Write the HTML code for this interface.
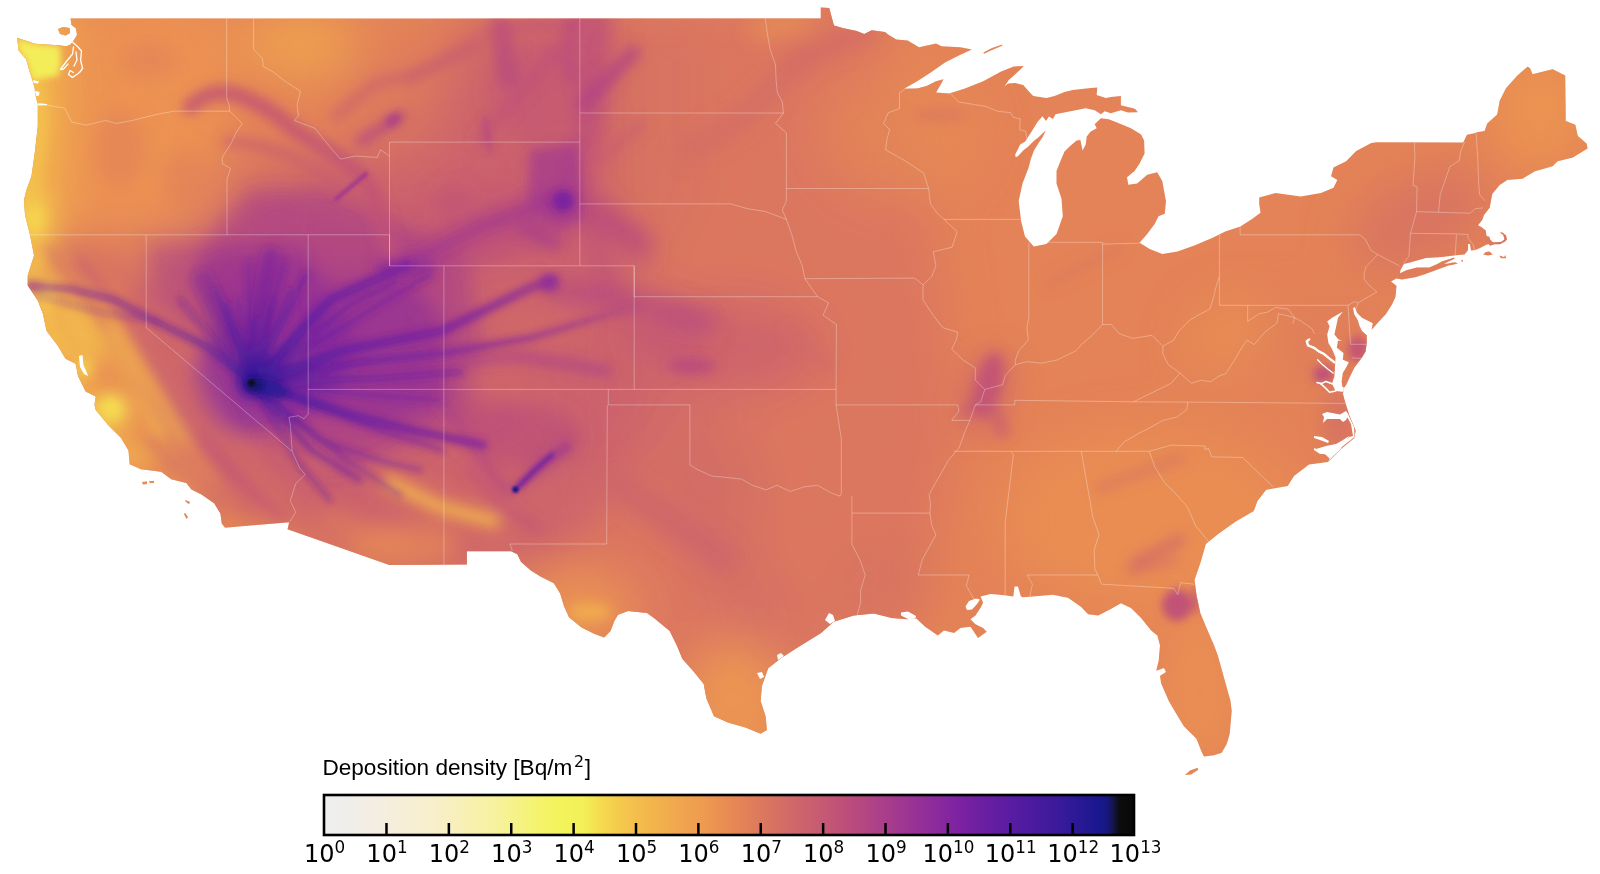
<!DOCTYPE html>
<html lang="en"><head><meta charset="utf-8"><title>Deposition density</title>
<style>
html,body{margin:0;padding:0;background:#fff;}
body{width:1600px;height:874px;overflow:hidden;position:relative;}
svg{position:absolute;left:0;top:0;display:block;}
.tk{font-family:"DejaVu Sans","Liberation Sans",sans-serif;font-size:24px;fill:#000;}
.sup{font-size:16.8px;}
.ttl{font-family:"Liberation Sans",Arial,Helvetica,sans-serif;font-size:22.6px;fill:#000;}
.ttl .s2{font-family:"DejaVu Sans","Liberation Sans",sans-serif;font-size:15.8px;}
</style></head><body>
<svg width="1600" height="874" viewBox="0 0 1600 874">
<defs>
<clipPath id="us"><path d="M70.5 18.4 L820.8 18.6 L820.8 7.6 L829.3 7.9 L832.2 18.9 L834.0 25.5 L843.5 28.3 L856.7 31.1 L864.2 34.0 L871.8 30.2 L885.0 32.1 L888.8 34.9 L896.3 39.6 L907.7 40.6 L919.0 47.2 L936.0 43.4 L941.7 46.3 L960.5 47.2 L971.9 49.5 L960.5 54.7 L945.4 62.3 L930.3 72.7 L917.1 81.2 L903.9 88.7 L917.1 88.4 L926.5 85.9 L936.0 81.2 L943.5 79.3 L941.0 84.0 L936.0 92.5 L949.2 93.4 L964.3 88.7 L983.2 81.2 L1001.1 71.5 L1013.7 66.4 L1023.7 65.9 L1021.0 69.0 L1008.6 80.3 L1004.5 86.5 L1008.1 83.5 L1015.2 83.0 L1023.2 85.0 L1030.3 93.1 L1033.3 96.1 L1046.4 98.1 L1054.5 96.1 L1064.5 92.1 L1072.6 90.1 L1090.7 88.1 L1097.3 87.6 L1096.7 95.1 L1105.8 98.1 L1110.8 97.1 L1120.9 96.1 L1120.9 105.2 L1135.0 108.7 L1138.0 112.2 L1128.0 112.4 L1120.9 110.2 L1110.8 113.2 L1104.8 111.2 L1100.8 114.2 L1094.7 110.2 L1085.7 108.2 L1070.6 111.2 L1060.5 113.2 L1055.5 114.2 L1053.0 119.0 L1049.0 116.5 L1046.0 121.0 L1042.4 116.3 L1037.3 122.3 L1032.3 130.4 L1025.2 141.4 L1020.2 144.5 L1015.2 154.5 L1015.5 157.0 L1017.6 156.5 L1023.2 150.5 L1028.3 146.5 L1034.3 140.4 L1038.3 137.4 L1042.4 133.4 L1045.8 130.2 L1043.0 136.4 L1038.3 143.4 L1034.0 150.5 L1031.0 158.5 L1028.5 168.0 L1022.5 183.6 L1018.7 201.2 L1021.2 221.4 L1025.0 236.5 L1033.8 246.5 L1046.4 244.0 L1056.5 233.9 L1062.8 216.3 L1061.5 198.7 L1056.5 183.6 L1056.5 171.0 L1061.5 158.4 L1064.5 151.5 L1069.6 146.5 L1076.6 140.4 L1080.4 140.0 L1082.6 150.5 L1085.7 144.5 L1086.7 136.4 L1090.7 131.4 L1096.7 128.3 L1094.7 124.3 L1100.8 118.3 L1108.8 119.3 L1118.9 123.3 L1131.0 128.3 L1141.1 134.4 L1144.1 140.4 L1144.6 153.4 L1139.6 163.4 L1134.6 171.0 L1127.0 177.3 L1128.3 184.8 L1137.1 183.6 L1147.2 174.8 L1157.2 172.2 L1162.3 181.1 L1166.0 201.2 L1164.8 213.8 L1158.5 216.3 L1154.7 223.9 L1147.2 234.0 L1139.6 242.8 L1149.7 249.1 L1162.3 254.1 L1177.4 251.6 L1195.0 245.3 L1212.6 237.7 L1225.2 231.6 L1240.3 226.6 L1252.0 219.0 L1260.5 212.7 L1259.2 204.0 L1259.2 197.6 L1275.6 193.0 L1300.8 196.5 L1320.9 193.0 L1333.5 187.7 L1337.3 180.1 L1331.0 176.3 L1333.5 167.5 L1346.1 161.2 L1356.2 151.1 L1371.3 143.1 L1376.3 142.3 L1463.2 142.6 L1467.0 134.8 L1473.3 133.5 L1477.1 132.2 L1484.6 131.0 L1487.2 123.4 L1497.2 114.6 L1499.7 100.8 L1506.0 88.2 L1517.4 75.6 L1527.5 66.8 L1530.0 68.0 L1532.5 74.3 L1552.6 69.3 L1565.2 75.6 L1565.7 120.9 L1575.3 124.7 L1577.8 136.0 L1586.6 143.6 L1587.6 148.6 L1572.8 157.4 L1557.7 161.2 L1552.6 166.2 L1535.0 171.3 L1522.4 178.8 L1507.3 180.1 L1499.7 185.1 L1492.2 194.0 L1489.7 207.7 L1484.0 215.0 L1482.2 220.0 L1478.0 225.3 L1481.3 227.0 L1485.7 230.6 L1486.6 235.9 L1489.3 236.7 L1490.1 239.4 L1492.8 242.3 L1497.2 242.3 L1501.6 241.8 L1504.5 239.4 L1503.3 235.0 L1499.8 232.6 L1502.5 232.6 L1506.0 235.5 L1507.0 239.4 L1505.1 241.6 L1499.8 244.2 L1494.5 244.2 L1490.1 245.8 L1488.4 244.0 L1485.7 244.9 L1479.6 248.2 L1475.2 250.0 L1471.0 250.5 L1470.0 244.0 L1468.0 244.0 L1468.1 250.0 L1464.6 254.4 L1455.8 255.2 L1441.7 257.0 L1425.8 257.9 L1410.8 262.3 L1403.8 264.0 L1400.5 270.0 L1399.0 277.0 L1391.0 281.5 L1396.5 285.8 L1395.5 297.0 L1392.0 304.6 L1386.0 314.0 L1379.0 321.4 L1371.6 329.8 L1372.8 323.2 L1368.0 320.8 L1362.0 317.8 L1357.2 313.0 L1354.8 307.0 L1353.0 308.2 L1354.2 314.2 L1357.8 320.2 L1359.6 326.2 L1362.0 331.0 L1366.8 335.2 L1366.8 343.0 L1365.6 351.4 L1362.0 357.4 L1354.8 367.0 L1350.0 376.6 L1346.4 384.4 L1343.6 388.5 L1343.6 392.0 L1342.8 393.0 L1344.6 400.3 L1349.4 415.4 L1355.7 430.5 L1354.4 438.1 L1341.8 448.2 L1328.0 462.0 L1309.1 464.5 L1294.0 475.9 L1287.7 485.9 L1266.2 489.7 L1257.4 501.1 L1253.7 511.1 L1236.0 521.2 L1218.4 533.8 L1205.8 543.9 L1200.8 561.5 L1194.5 580.0 L1196.5 595.3 L1200.3 612.9 L1206.5 628.0 L1214.1 645.6 L1217.9 655.7 L1224.2 678.4 L1230.5 701.1 L1231.7 711.1 L1229.7 733.8 L1226.7 743.9 L1221.7 752.7 L1214.1 755.2 L1204.0 756.5 L1201.5 751.4 L1196.5 738.8 L1183.9 726.2 L1176.3 713.7 L1168.8 701.1 L1161.2 683.4 L1160.0 676.0 L1166.0 672.0 L1164.0 668.0 L1156.2 670.8 L1158.7 660.8 L1160.0 645.6 L1157.4 635.6 L1151.1 630.5 L1141.1 617.9 L1131.0 607.9 L1120.9 603.3 L1110.8 609.1 L1098.2 615.4 L1088.2 614.2 L1080.6 606.6 L1068.0 597.8 L1052.9 594.8 L1032.7 596.5 L1022.6 597.3 L1020.8 596.3 L1018.0 586.4 L1014.5 586.4 L1013.3 596.5 L1004.5 595.2 L990.6 594.0 L980.6 596.5 L983.1 602.8 L980.6 607.8 L975.5 615.4 L970.5 619.2 L975.5 624.2 L983.1 628.0 L986.8 631.7 L978.0 638.0 L970.5 626.7 L960.4 628.0 L954.1 633.0 L944.0 630.5 L937.8 635.5 L925.2 626.7 L916.4 618.5 L906.7 619.2 L891.6 617.9 L874.0 613.4 L853.8 615.4 L833.7 621.7 L821.1 633.0 L798.4 646.9 L780.8 658.2 L768.2 668.3 L761.9 686.0 L760.6 701.0 L765.6 716.2 L766.9 730.0 L760.6 733.8 L745.5 727.5 L727.9 722.5 L714.0 716.2 L706.4 698.5 L703.7 684.0 L693.6 671.4 L682.3 658.8 L677.2 646.2 L669.7 631.1 L654.6 618.5 L647.0 613.0 L628.1 611.0 L618.0 614.8 L614.3 621.1 L610.5 631.1 L604.2 637.4 L594.1 633.7 L581.5 627.4 L568.9 617.3 L563.9 606.0 L560.1 593.4 L553.8 583.3 L541.2 577.0 L531.1 570.7 L521.0 561.9 L517.3 554.3 L511.0 551.3 L466.9 551.3 L466.9 564.6 L389.4 564.9 L287.5 529.3 L289.2 522.3 L225.0 527.7 L221.7 523.4 L220.4 513.4 L214.1 503.3 L201.5 494.5 L191.4 489.4 L186.4 483.1 L171.3 479.3 L161.2 471.8 L141.0 469.3 L129.7 464.2 L128.5 450.4 L120.9 437.8 L108.3 425.2 L95.7 410.0 L94.5 405.0 L95.7 396.5 L85.6 391.4 L78.0 376.0 L75.6 363.7 L65.5 358.7 L58.0 346.0 L46.6 331.0 L42.8 313.4 L37.8 300.8 L27.7 285.6 L27.7 275.6 L34.0 255.4 L30.0 235.0 L25.0 215.0 L24.0 200.0 L26.4 190.0 L31.5 176.0 L35.0 151.0 L37.8 126.0 L37.8 104.5 L35.0 93.0 L34.7 88.0 L32.2 79.6 L29.2 70.5 L26.2 59.4 L18.6 50.4 L17.1 37.8 L35.2 43.8 L58.4 45.3 L66.5 46.3 L70.5 44.5 L74.0 40.0 L77.0 35.0 L76.0 28.5 L71.5 25.0 L70.5 18.6ZM1401.6 272.5 L1406.4 270.2 L1417.0 267.6 L1429.3 267.6 L1437.3 264.0 L1441.7 261.4 L1450.5 258.8 L1454.0 257.5 L1454.5 258.8 L1448.0 261.8 L1444.0 264.0 L1448.0 263.4 L1454.5 262.3 L1458.0 263.2 L1454.0 264.6 L1448.7 265.6 L1441.7 268.0 L1432.9 271.2 L1424.0 274.4 L1415.2 277.2 L1402.0 279.5 L1396.7 278.5 L1397.0 274.5ZM1461.5 260.0 L1463.0 260.0 L1463.0 261.5 L1461.5 261.5ZM1185.0 775.0 L1190.0 770.5 L1197.7 767.8 L1198.0 770.0 L1191.0 774.5ZM983.4 52.6 L992.0 48.0 L1002.3 44.5 L1002.3 45.8 L992.0 50.0 L984.0 53.8ZM58.0 29.0 L63.0 27.0 L69.5 28.0 L70.0 33.0 L66.0 35.5 L60.0 34.0ZM1483.0 254.5 L1486.0 252.0 L1489.5 251.5 L1492.8 254.5 L1488.0 255.5ZM1499.0 255.5 L1504.0 257.0 L1505.5 255.0 L1506.0 258.3 L1501.0 258.3ZM142.0 482.0 L147.0 481.5 L147.0 484.0 L143.0 484.5ZM149.0 481.0 L154.0 481.0 L154.0 483.0 L150.0 483.0ZM185.0 500.0 L190.0 502.0 L189.0 504.0 L186.0 502.0ZM185.0 513.0 L188.0 517.0 L186.5 519.0 L184.0 514.0Z"/></clipPath>
<linearGradient id="cbg" x1="0" x2="1" y1="0" y2="0"><stop offset="0.00%" stop-color="#efefef"/><stop offset="2.59%" stop-color="#f0eeec"/><stop offset="6.91%" stop-color="#f5ede0"/><stop offset="14.30%" stop-color="#f8efc8"/><stop offset="21.70%" stop-color="#f6f29a"/><stop offset="26.63%" stop-color="#f4f36c"/><stop offset="29.10%" stop-color="#f3f35c"/><stop offset="32.06%" stop-color="#f3f058"/><stop offset="34.03%" stop-color="#f5dc50"/><stop offset="36.74%" stop-color="#f5c84d"/><stop offset="39.70%" stop-color="#f3b84c"/><stop offset="43.90%" stop-color="#f0a64e"/><stop offset="46.98%" stop-color="#ee9a50"/><stop offset="51.29%" stop-color="#e58456"/><stop offset="57.46%" stop-color="#d06a68"/><stop offset="64.86%" stop-color="#bc4c7c"/><stop offset="72.26%" stop-color="#9c3494"/><stop offset="78.42%" stop-color="#7c22a2"/><stop offset="84.59%" stop-color="#5a1ca2"/><stop offset="90.75%" stop-color="#3a1a9a"/><stop offset="95.68%" stop-color="#18188e"/><stop offset="96.67%" stop-color="#171780"/><stop offset="97.41%" stop-color="#14144a"/><stop offset="98.27%" stop-color="#0c0c0c"/><stop offset="100.00%" stop-color="#080808"/></linearGradient>
<radialGradient id="rayg" gradientUnits="userSpaceOnUse" cx="251.5" cy="382.8" r="420">
<stop offset="0" stop-color="#2f1996" stop-opacity="1"/><stop offset="0.08" stop-color="#4e1b9f" stop-opacity="1"/>
<stop offset="0.25" stop-color="#6b1fa2" stop-opacity="0.95"/><stop offset="0.55" stop-color="#8024a0" stop-opacity="0.85"/>
<stop offset="0.8" stop-color="#942f98" stop-opacity="0.65"/><stop offset="1" stop-color="#a93e8a" stop-opacity="0.0"/></radialGradient>
<filter id="b24" filterUnits="userSpaceOnUse" x="-100" y="-100" width="1800" height="1074"><feGaussianBlur stdDeviation="24"/></filter>
<filter id="b12" filterUnits="userSpaceOnUse" x="-100" y="-100" width="1800" height="1074"><feGaussianBlur stdDeviation="12"/></filter>
<filter id="b10" filterUnits="userSpaceOnUse" x="-100" y="-100" width="1800" height="1074"><feGaussianBlur stdDeviation="10"/></filter>
<filter id="b6" filterUnits="userSpaceOnUse" x="-100" y="-100" width="1800" height="1074"><feGaussianBlur stdDeviation="6"/></filter>
<filter id="b5" filterUnits="userSpaceOnUse" x="-100" y="-100" width="1800" height="1074"><feGaussianBlur stdDeviation="5"/></filter>
<filter id="b4" filterUnits="userSpaceOnUse" x="-100" y="-100" width="1800" height="1074"><feGaussianBlur stdDeviation="4"/></filter>
<filter id="b3_2" filterUnits="userSpaceOnUse" x="-100" y="-100" width="1800" height="1074"><feGaussianBlur stdDeviation="3.2"/></filter>
<filter id="b3" filterUnits="userSpaceOnUse" x="-100" y="-100" width="1800" height="1074"><feGaussianBlur stdDeviation="3"/></filter>
<filter id="b2" filterUnits="userSpaceOnUse" x="-100" y="-100" width="1800" height="1074"><feGaussianBlur stdDeviation="2"/></filter>
<filter id="b1_5" filterUnits="userSpaceOnUse" x="-100" y="-100" width="1800" height="1074"><feGaussianBlur stdDeviation="1.5"/></filter>
<filter id="b1" filterUnits="userSpaceOnUse" x="-100" y="-100" width="1800" height="1074"><feGaussianBlur stdDeviation="1"/></filter>
<filter id="b0_8" filterUnits="userSpaceOnUse" x="-100" y="-100" width="1800" height="1074"><feGaussianBlur stdDeviation="0.8"/></filter>

</defs>
<g clip-path="url(#us)">
<rect x="0" y="0" width="1600" height="874" fill="#e48357"/>
<g filter="url(#b24)">
<polygon points="600,0 880,0 930,200 960,420 920,620 820,700 700,760 600,700 560,400" fill="#da7660" fill-opacity="0.9"/>
<ellipse cx="720" cy="348" rx="100" ry="48" fill="#c75d71" fill-opacity="0.7"/>
<ellipse cx="700" cy="480" rx="70" ry="60" fill="#d26c66" fill-opacity="0.5"/>
<polygon points="585,10 700,10 700,200 640,290 585,290" fill="#d47064" fill-opacity="0.5"/>
<polygon points="150,240 300,170 400,140 520,0 600,0 610,200 650,300 690,360 640,450 560,560 420,580 290,530 230,470 150,330" fill="#ca616e" fill-opacity="0.9"/>
<polygon points="200,250 320,200 440,230 450,420 330,480 240,430" fill="#b64880" fill-opacity="0.6"/>
<polygon points="450,10 610,10 610,150 450,160" fill="#cb636d" fill-opacity="0.6"/>
<polygon points="340,60 450,40 450,160 400,170 340,130" fill="#d77362" fill-opacity="0.5"/>
<polygon points="215,150 330,150 400,190 400,250 215,250" fill="#cd666b" fill-opacity="0.45"/>
<polygon points="0,0 230,0 230,120 200,230 0,240" fill="#ed9651" fill-opacity="0.8"/>
<ellipse cx="300" cy="45" rx="60" ry="35" fill="#f1aa4e" fill-opacity="0.75"/>
<polygon points="0,0 52,0 58,120 48,250 62,340 112,420 145,480 0,480" fill="#f4bf4c" fill-opacity="0.95"/>
<polygon points="60,300 110,290 160,380 230,470 235,535 120,480 50,340" fill="#eb9252" fill-opacity="0.6"/>
<ellipse cx="105" cy="262" rx="45" ry="30" fill="#d77362" fill-opacity="0.7"/>
<path d="M650 320 L690 440 L730 570 L760 620" fill="none" stroke="#cf6969" stroke-opacity="0.55" stroke-width="70" stroke-linecap="round" stroke-linejoin="round"/>
<ellipse cx="1420" cy="220" rx="75" ry="42" fill="#d47064" fill-opacity="0.8" transform="rotate(-25 1420 220)"/>
<ellipse cx="1540" cy="110" rx="50" ry="60" fill="#ee9a50" fill-opacity="0.7"/>
<ellipse cx="735" cy="700" rx="50" ry="60" fill="#ef9d4f" fill-opacity="0.8"/>
<ellipse cx="590" cy="610" rx="50" ry="35" fill="#efa04f" fill-opacity="0.7"/>
<ellipse cx="1150" cy="520" rx="150" ry="90" fill="#eb9252" fill-opacity="0.7"/>
<ellipse cx="1200" cy="690" rx="40" ry="80" fill="#ed9651" fill-opacity="0.6"/>
<ellipse cx="1225" cy="335" rx="40" ry="30" fill="#ee9a50" fill-opacity="0.5" transform="rotate(-40 1225 335)"/>
<ellipse cx="885" cy="585" rx="50" ry="35" fill="#d47064" fill-opacity="0.5"/>
<ellipse cx="900" cy="130" rx="80" ry="70" fill="#e98f53" fill-opacity="0.5"/>
<ellipse cx="1325" cy="345" rx="55" ry="45" fill="#dc795d" fill-opacity="0.5"/>
<ellipse cx="500" cy="215" rx="75" ry="48" fill="#c55973" fill-opacity="0.6"/>
</g>
<g filter="url(#b12)">
<ellipse cx="665" cy="335" rx="40" ry="30" fill="#c15377" fill-opacity="0.5"/>
</g>
<g filter="url(#b10)">
<polygon points="252,383 195,260 250,190 330,190 420,235 465,255 480,330 470,420 400,445 330,475" fill="#a2398f" fill-opacity="0.5"/>
<polygon points="252,383 212,300 250,262 300,252 335,285 400,268 445,325 445,405 385,425 300,410" fill="#88299d" fill-opacity="0.5"/>
<ellipse cx="273.5" cy="364.8" rx="85" ry="62" fill="#84269f" fill-opacity="0.7" transform="rotate(-30 273.5 364.8)"/>
<ellipse cx="35" cy="215" rx="16" ry="30" fill="#f5cc4e" fill-opacity="0.7"/>
<ellipse cx="80" cy="330" rx="18" ry="38" fill="#f4c34d" fill-opacity="0.75" transform="rotate(-30 80 330)"/>
<ellipse cx="110" cy="412" rx="20" ry="17" fill="#f5d24f" fill-opacity="0.85"/>
<ellipse cx="135" cy="455" rx="22" ry="10" fill="#f3b74c" fill-opacity="0.6" transform="rotate(30 135 455)"/>
<ellipse cx="200" cy="495" rx="25" ry="12" fill="#f1aa4e" fill-opacity="0.5" transform="rotate(30 200 495)"/>
<path d="M140 300 L200 420 L250 500" fill="none" stroke="#c9606f" stroke-opacity="0.65" stroke-width="36" stroke-linecap="round" stroke-linejoin="round"/>
<path d="M98 312 L150 398 L172 438" fill="none" stroke="#f2b04d" stroke-opacity="0.75" stroke-width="24" stroke-linecap="round" stroke-linejoin="round"/>
<path d="M165 470 L215 500 L260 505" fill="none" stroke="#d26c66" stroke-opacity="0.5" stroke-width="22" stroke-linecap="round" stroke-linejoin="round"/>
<ellipse cx="185" cy="480" rx="22" ry="12" fill="#ef9d4f" fill-opacity="0.5" transform="rotate(20 185 480)"/>
<path d="M70 250 L150 290" fill="none" stroke="#d26c66" stroke-opacity="0.5" stroke-width="26" stroke-linecap="round" stroke-linejoin="round"/>
<ellipse cx="150" cy="60" rx="30" ry="18" fill="#dc795d" fill-opacity="0.4"/>
<ellipse cx="120" cy="150" rx="25" ry="40" fill="#dc795d" fill-opacity="0.4"/>
<ellipse cx="185" cy="180" rx="25" ry="30" fill="#dc795d" fill-opacity="0.4"/>
<polygon points="150,245 305,245 305,380 252,383 205,340 150,300" fill="#a93e8a" fill-opacity="0.45"/>
<polygon points="200,250 305,250 305,370 252,383 225,330" fill="#942f98" fill-opacity="0.4"/>
<ellipse cx="277" cy="217" rx="24" ry="10" fill="#b34583" fill-opacity="0.6"/>
<ellipse cx="540" cy="95" rx="50" ry="45" fill="#c35675" fill-opacity="0.5"/>
<path d="M568 200 L590 120 L596 20" fill="none" stroke="#ba4a7e" stroke-opacity="0.65" stroke-width="30" stroke-linecap="round" stroke-linejoin="round"/>
<path d="M540 150 L520 60" fill="none" stroke="#c55973" stroke-opacity="0.4" stroke-width="40" stroke-linecap="round" stroke-linejoin="round"/>
<path d="M585 195 L640 250" fill="none" stroke="#bd4d7b" stroke-opacity="0.5" stroke-width="30" stroke-linecap="round" stroke-linejoin="round"/>
<ellipse cx="545" cy="225" rx="25" ry="18" fill="#a93e8a" fill-opacity="0.6" transform="rotate(40 545 225)"/>
<path d="M575 205 L640 240" fill="none" stroke="#b64880" stroke-opacity="0.6" stroke-width="22" stroke-linecap="round" stroke-linejoin="round"/>
<path d="M585 215 L610 290" fill="none" stroke="#bd4d7b" stroke-opacity="0.5" stroke-width="25" stroke-linecap="round" stroke-linejoin="round"/>
<ellipse cx="452" cy="201" rx="20" ry="12" fill="#ba4a7e" fill-opacity="0.5"/>
<path d="M556 288 L632 303 L707 321" fill="none" stroke="#b04385" stroke-opacity="0.6" stroke-width="24" stroke-linecap="round" stroke-linejoin="round"/>
<ellipse cx="540" cy="325" rx="45" ry="15" fill="#d26c66" fill-opacity="0.55"/>
<ellipse cx="500" cy="385" rx="40" ry="12" fill="#cf6969" fill-opacity="0.4"/>
<ellipse cx="650" cy="310" rx="18" ry="12" fill="#c55973" fill-opacity="0.4"/>
<ellipse cx="480" cy="420" rx="40" ry="25" fill="#bf5079" fill-opacity="0.4"/>
<ellipse cx="560" cy="500" rx="40" ry="30" fill="#cd666b" fill-opacity="0.4"/>
<ellipse cx="405" cy="545" rx="55" ry="22" fill="#e98f53" fill-opacity="0.6"/>
<path d="M388 480 L440 507 L495 522" fill="none" stroke="#eb9252" stroke-opacity="0.5" stroke-width="26" stroke-linecap="round" stroke-linejoin="round"/>
<path d="M330 520 L400 545" fill="none" stroke="#e68755" stroke-opacity="0.5" stroke-width="20" stroke-linecap="round" stroke-linejoin="round"/>
<ellipse cx="520" cy="435" rx="60" ry="32" fill="#b64880" fill-opacity="0.5"/>
<path d="M620 486 L723 558" fill="none" stroke="#c75d71" stroke-opacity="0.5" stroke-width="30" stroke-linecap="round" stroke-linejoin="round"/>
<path d="M535 470 L575 440" fill="none" stroke="#b04385" stroke-opacity="0.5" stroke-width="14" stroke-linecap="round" stroke-linejoin="round"/>
<ellipse cx="988" cy="392" rx="32" ry="50" fill="#cf6969" fill-opacity="0.4" transform="rotate(15 988 392)"/>
<ellipse cx="1340" cy="422" rx="18" ry="32" fill="#cf6969" fill-opacity="0.6"/>
<path d="M800 60 L870 30" fill="none" stroke="#cb636d" stroke-opacity="0.6" stroke-width="16" stroke-linecap="round" stroke-linejoin="round"/>
<path d="M690 150 L740 120 L800 60" fill="none" stroke="#cd666b" stroke-opacity="0.45" stroke-width="22" stroke-linecap="round" stroke-linejoin="round"/>
<path d="M760 30 L800 22" fill="none" stroke="#efa04f" stroke-opacity="0.5" stroke-width="20" stroke-linecap="round" stroke-linejoin="round"/>
<path d="M400 268 L480 228 L555 200" fill="none" stroke="#a93e8a" stroke-opacity="0.75" stroke-width="24" stroke-linecap="round" stroke-linejoin="round"/>
<path d="M470 262 L540 232" fill="none" stroke="#b64880" stroke-opacity="0.5" stroke-width="18" stroke-linecap="round" stroke-linejoin="round"/>
</g>
<g filter="url(#b6)">
<path d="M36 82 L40 105 L40 130 L36 160 L30 185 L27 215 L34 235" fill="none" stroke="#f4c34d" stroke-opacity="0.8" stroke-width="16" stroke-linecap="round" stroke-linejoin="round"/>
<path d="M36 255 L32 280 L45 305 L52 335 L68 352" fill="none" stroke="#f4bf4c" stroke-opacity="0.7" stroke-width="14" stroke-linecap="round" stroke-linejoin="round"/>
<path d="M48 250 L90 300 L125 360 L160 420" fill="none" stroke="#d47064" stroke-opacity="0.55" stroke-width="10" stroke-linecap="round" stroke-linejoin="round"/>
<path d="M80 262 L130 320 L185 410 L235 480" fill="none" stroke="#c75d71" stroke-opacity="0.6" stroke-width="12" stroke-linecap="round" stroke-linejoin="round"/>
<path d="M135 380 L175 445 L225 500" fill="none" stroke="#cd666b" stroke-opacity="0.5" stroke-width="9" stroke-linecap="round" stroke-linejoin="round"/>
<path d="M150 440 L195 485 L222 515" fill="none" stroke="#cd666b" stroke-opacity="0.5" stroke-width="9" stroke-linecap="round" stroke-linejoin="round"/>
<path d="M205 440 L250 490 L280 515" fill="none" stroke="#c15377" stroke-opacity="0.55" stroke-width="12" stroke-linecap="round" stroke-linejoin="round"/>
<path d="M110 330 L140 385 L160 430" fill="none" stroke="#f3b74c" stroke-opacity="0.6" stroke-width="9" stroke-linecap="round" stroke-linejoin="round"/>
<ellipse cx="34" cy="219" rx="10" ry="14" fill="#f5d84f" fill-opacity="0.8"/>
<ellipse cx="48" cy="296" rx="8" ry="12" fill="#f5d24f" fill-opacity="0.7"/>
<ellipse cx="84" cy="368" rx="9" ry="12" fill="#f5d24f" fill-opacity="0.8"/>
<ellipse cx="111" cy="408" rx="12" ry="11" fill="#f5de51" fill-opacity="0.9"/>
<ellipse cx="322" cy="462" rx="18" ry="8" fill="#d77362" fill-opacity="0.5" transform="rotate(40 322 462)"/>
<path d="M190 107 Q212 86 240 96 T296 131 Q330 152 352 168 T380 215 Q385 245 397 264" fill="none" stroke="#c15377" stroke-opacity="0.8" stroke-width="16" stroke-linecap="round" stroke-linejoin="round"/>
<path d="M228 142 Q262 142 300 161 T352 202" fill="none" stroke="#c55973" stroke-opacity="0.6" stroke-width="11" stroke-linecap="round" stroke-linejoin="round"/>
<path d="M361 141 L401 116" fill="none" stroke="#b04385" stroke-opacity="0.7" stroke-width="11" stroke-linecap="round" stroke-linejoin="round"/>
<path d="M336 116 L376 83 L409 76 L442 63 L477 50" fill="none" stroke="#c75d71" stroke-opacity="0.55" stroke-width="12" stroke-linecap="round" stroke-linejoin="round"/>
<path d="M508 78 L500 25" fill="none" stroke="#b64880" stroke-opacity="0.65" stroke-width="20" stroke-linecap="round" stroke-linejoin="round"/>
<path d="M572 20 L570 78" fill="none" stroke="#b64880" stroke-opacity="0.6" stroke-width="14" stroke-linecap="round" stroke-linejoin="round"/>
<path d="M497 30 L527 25 L578 25" fill="none" stroke="#bf5079" stroke-opacity="0.5" stroke-width="12" stroke-linecap="round" stroke-linejoin="round"/>
<path d="M547 50 L578 75" fill="none" stroke="#bf5079" stroke-opacity="0.5" stroke-width="12" stroke-linecap="round" stroke-linejoin="round"/>
<path d="M410 80 L500 25" fill="none" stroke="#c55973" stroke-opacity="0.4" stroke-width="12" stroke-linecap="round" stroke-linejoin="round"/>
<path d="M480 140 L550 60 L580 20" fill="none" stroke="#bf5079" stroke-opacity="0.5" stroke-width="14" stroke-linecap="round" stroke-linejoin="round"/>
<polygon points="530,150 578,142 584,220 560,228 528,200" fill="#9f3692" fill-opacity="0.65"/>
<path d="M583 104 L633 53" fill="none" stroke="#b04385" stroke-opacity="0.7" stroke-width="16" stroke-linecap="round" stroke-linejoin="round"/>
<path d="M600 160 L640 125" fill="none" stroke="#c55973" stroke-opacity="0.5" stroke-width="12" stroke-linecap="round" stroke-linejoin="round"/>
<path d="M521 227 L556 245" fill="none" stroke="#a93e8a" stroke-opacity="0.6" stroke-width="10" stroke-linecap="round" stroke-linejoin="round"/>
<ellipse cx="405" cy="268" rx="30" ry="12" fill="#8c2b9b" fill-opacity="0.75"/>
<path d="M443 361 L518 356 L607 371" fill="none" stroke="#a63b8d" stroke-opacity="0.6" stroke-width="11" stroke-linecap="round" stroke-linejoin="round"/>
<ellipse cx="692" cy="366" rx="24" ry="9" fill="#b34583" fill-opacity="0.7"/>
<path d="M390 483 L440 507 L493 521" fill="none" stroke="#f3bb4c" stroke-opacity="0.75" stroke-width="11" stroke-linecap="round" stroke-linejoin="round"/>
<ellipse cx="590" cy="612" rx="22" ry="9" fill="#f3b74c" fill-opacity="0.7"/>
<path d="M470 470 L500 505 L540 530" fill="none" stroke="#bf5079" stroke-opacity="0.5" stroke-width="10" stroke-linecap="round" stroke-linejoin="round"/>
<path d="M440 400 Q470 440 490 470 T512 488" fill="none" stroke="#a93e8a" stroke-opacity="0.6" stroke-width="8" stroke-linecap="round" stroke-linejoin="round"/>
<ellipse cx="988" cy="386" rx="14" ry="34" fill="#bf5079" fill-opacity="0.85" transform="rotate(14 988 386)"/>
<path d="M982 390 L966 412" fill="none" stroke="#c55973" stroke-opacity="0.65" stroke-width="13" stroke-linecap="round" stroke-linejoin="round"/>
<path d="M992 405 L1003 432" fill="none" stroke="#c75d71" stroke-opacity="0.65" stroke-width="14" stroke-linecap="round" stroke-linejoin="round"/>
<path d="M1100 488 L1180 458" fill="none" stroke="#d47064" stroke-opacity="0.5" stroke-width="12" stroke-linecap="round" stroke-linejoin="round"/>
<path d="M1135 563 L1180 540" fill="none" stroke="#cb636d" stroke-opacity="0.6" stroke-width="12" stroke-linecap="round" stroke-linejoin="round"/>
<path d="M1130 572 L1176 560" fill="none" stroke="#cb636d" stroke-opacity="0.5" stroke-width="8" stroke-linecap="round" stroke-linejoin="round"/>
<path d="M1050 283 L1120 248" fill="none" stroke="#da7660" stroke-opacity="0.5" stroke-width="10" stroke-linecap="round" stroke-linejoin="round"/>
<path d="M790 333 L830 368" fill="none" stroke="#cf6969" stroke-opacity="0.5" stroke-width="12" stroke-linecap="round" stroke-linejoin="round"/>
<ellipse cx="940" cy="115" rx="28" ry="7" fill="#d47064" fill-opacity="0.5"/>
<ellipse cx="33" cy="287" rx="10" ry="8" fill="#c55973" fill-opacity="0.6"/>
<path d="M400 266 L480 226 L555 199" fill="none" stroke="#9c3494" stroke-opacity="0.5" stroke-width="8" stroke-linecap="round" stroke-linejoin="round"/>
</g>
<g filter="url(#b5)">
<path d="M252 383 L203 280" fill="none" stroke="url(#rayg)" stroke-opacity="0.4" stroke-width="24" stroke-linecap="round" stroke-linejoin="round"/>
<path d="M252 383 L261 305 L271 255" fill="none" stroke="url(#rayg)" stroke-opacity="0.45" stroke-width="18" stroke-linecap="round" stroke-linejoin="round"/>
<ellipse cx="259.5" cy="379.8" rx="26" ry="20" fill="#4e1b9f" fill-opacity="0.7" transform="rotate(-25 259.5 379.8)"/>
</g>
<g filter="url(#b4)">
<ellipse cx="563" cy="201" rx="11" ry="11" fill="#7320a2" fill-opacity="0.9"/>
<ellipse cx="549" cy="283" rx="10" ry="9" fill="#8c2b9b" fill-opacity="0.8"/>
<ellipse cx="1177" cy="605" rx="15" ry="16" fill="#bd4d7b" fill-opacity="0.9"/>
<ellipse cx="1196" cy="600" rx="6" ry="14" fill="#c75d71" fill-opacity="0.7"/>
<ellipse cx="1358" cy="349" rx="10" ry="13" fill="#bf5079" fill-opacity="0.85"/>
<ellipse cx="1323" cy="374" rx="10" ry="8" fill="#b64880" fill-opacity="0.85"/>
<ellipse cx="1500" cy="240" rx="10" ry="8" fill="#cd666b" fill-opacity="0.7"/>
</g>
<g filter="url(#b3_2)">
<path d="M252 383 L206 346 L155 321 L115 300 L70 289 L30 286" fill="none" stroke="url(#rayg)" stroke-opacity="0.6" stroke-width="8" stroke-linecap="round" stroke-linejoin="round"/>
<path d="M160 322 L100 312 L40 296" fill="none" stroke="url(#rayg)" stroke-opacity="0.35" stroke-width="5" stroke-linecap="round" stroke-linejoin="round"/>
<path d="M252 383 L226 306" fill="none" stroke="url(#rayg)" stroke-opacity="0.6" stroke-width="7" stroke-linecap="round" stroke-linejoin="round"/>
<path d="M252 383 L238 300" fill="none" stroke="url(#rayg)" stroke-opacity="0.5" stroke-width="5" stroke-linecap="round" stroke-linejoin="round"/>
<path d="M252 383 L255 320" fill="none" stroke="url(#rayg)" stroke-opacity="0.6" stroke-width="5" stroke-linecap="round" stroke-linejoin="round"/>
<path d="M252 383 L272 300" fill="none" stroke="url(#rayg)" stroke-opacity="0.6" stroke-width="5" stroke-linecap="round" stroke-linejoin="round"/>
<path d="M252 383 L290 290" fill="none" stroke="url(#rayg)" stroke-opacity="0.5" stroke-width="5" stroke-linecap="round" stroke-linejoin="round"/>
<path d="M252 383 L306 275" fill="none" stroke="url(#rayg)" stroke-opacity="0.6" stroke-width="7" stroke-linecap="round" stroke-linejoin="round"/>
<path d="M252 383 L330 300 L407 265" fill="none" stroke="url(#rayg)" stroke-opacity="0.9" stroke-width="10" stroke-linecap="round" stroke-linejoin="round"/>
<path d="M252 383 L350 305 L395 282" fill="none" stroke="url(#rayg)" stroke-opacity="0.6" stroke-width="6" stroke-linecap="round" stroke-linejoin="round"/>
<path d="M252 383 L382 303 L430 275" fill="none" stroke="url(#rayg)" stroke-opacity="0.6" stroke-width="6" stroke-linecap="round" stroke-linejoin="round"/>
<path d="M252 383 L345 350 L442 331 L530 288 L552 280" fill="none" stroke="url(#rayg)" stroke-opacity="0.9" stroke-width="10" stroke-linecap="round" stroke-linejoin="round"/>
<path d="M252 383 L360 362 L445 353 L530 338 L640 305" fill="none" stroke="url(#rayg)" stroke-opacity="0.75" stroke-width="8" stroke-linecap="round" stroke-linejoin="round"/>
<path d="M252 383 L382 378 L460 372" fill="none" stroke="url(#rayg)" stroke-opacity="0.6" stroke-width="8" stroke-linecap="round" stroke-linejoin="round"/>
<path d="M252 383 L370 395 L440 400" fill="none" stroke="url(#rayg)" stroke-opacity="0.5" stroke-width="6" stroke-linecap="round" stroke-linejoin="round"/>
<path d="M252 383 L357 416 L420 432 L483 445" fill="none" stroke="url(#rayg)" stroke-opacity="0.9" stroke-width="9" stroke-linecap="round" stroke-linejoin="round"/>
<path d="M252 383 L382 431 L442 450" fill="none" stroke="url(#rayg)" stroke-opacity="0.65" stroke-width="6" stroke-linecap="round" stroke-linejoin="round"/>
<path d="M252 383 L311 450 L360 480" fill="none" stroke="url(#rayg)" stroke-opacity="0.6" stroke-width="6" stroke-linecap="round" stroke-linejoin="round"/>
<path d="M252 383 L320 440 L385 462 L420 470" fill="none" stroke="url(#rayg)" stroke-opacity="0.6" stroke-width="5" stroke-linecap="round" stroke-linejoin="round"/>
<path d="M252 383 L215 290" fill="none" stroke="url(#rayg)" stroke-opacity="0.5" stroke-width="5" stroke-linecap="round" stroke-linejoin="round"/>
<path d="M252 383 L248 262" fill="none" stroke="url(#rayg)" stroke-opacity="0.5" stroke-width="5" stroke-linecap="round" stroke-linejoin="round"/>
<path d="M252 383 L285 262" fill="none" stroke="url(#rayg)" stroke-opacity="0.5" stroke-width="5" stroke-linecap="round" stroke-linejoin="round"/>
<path d="M252 383 L180 300" fill="none" stroke="url(#rayg)" stroke-opacity="0.4" stroke-width="6" stroke-linecap="round" stroke-linejoin="round"/>
<path d="M252 383 L300 465 L330 500" fill="none" stroke="url(#rayg)" stroke-opacity="0.5" stroke-width="5" stroke-linecap="round" stroke-linejoin="round"/>
<path d="M252 383 L340 455 L400 495" fill="none" stroke="url(#rayg)" stroke-opacity="0.5" stroke-width="5" stroke-linecap="round" stroke-linejoin="round"/>
</g>
<g filter="url(#b3)">
<polygon points="17,38 35,44 60,46 61,62 58,76 32,80 26,60 18,50" fill="#f3f058" fill-opacity="0.95"/>
<ellipse cx="393" cy="120" rx="9" ry="6" fill="#a2398f" fill-opacity="0.6" transform="rotate(-35 393 120)"/>
<path d="M485 118 L490 151" fill="none" stroke="#ac4088" stroke-opacity="0.6" stroke-width="5" stroke-linecap="round" stroke-linejoin="round"/>
<path d="M521 484 L545 462 L566 447" fill="none" stroke="#9c3494" stroke-opacity="0.55" stroke-width="11" stroke-linecap="round" stroke-linejoin="round"/>
<polygon points="248,378 274,380 290,392 282,399 260,394 248,388" fill="#251992" fill-opacity="0.75"/>
</g>
<g filter="url(#b2)">
<path d="M515 490 L535 470 L552 455" fill="none" stroke="#6b1fa2" stroke-opacity="0.85" stroke-width="5" stroke-linecap="round" stroke-linejoin="round"/>
<ellipse cx="254.5" cy="384.8" rx="9" ry="7" fill="#16166e" fill-opacity="0.95"/>
</g>
<g filter="url(#b1_5)">
<path d="M336 199 L366 174" fill="none" stroke="#9c3494" stroke-opacity="0.8" stroke-width="4.5" stroke-linecap="round" stroke-linejoin="round"/>
</g>
<g filter="url(#b1)">
<ellipse cx="515.5" cy="489.5" rx="3" ry="3" fill="#181887" fill-opacity="1"/>
</g>
<g filter="url(#b0_8)">
<ellipse cx="251.5" cy="382.8" rx="3" ry="3" fill="#080808" fill-opacity="1"/>
</g>

<path d="M226.7 18.4 L226.7 98.2 L229.1 105.0 L229.9 111.2 L242.2 123.5 L235.9 132.8 L231.8 142.1 L222.3 157.5 L222.3 163.7 L230.5 168.4 L227.0 179.2 L227.0 234.8M40.2 103.4 L53.8 106.5 L64.7 108.1 L71.5 122.0 L86.4 125.1 L105.4 120.4 L116.3 123.5 L132.6 120.4 L157.1 114.3 L173.9 111.2 L229.9 111.2M29.3 234.8 L389.5 234.8M146.2 234.8 L146.2 327.6 L292.2 451.3M292.2 451.3 L291.1 435.8 L290.3 425.0 L288.9 417.3 L298.5 415.7 L303.9 418.8 L308.2 414.2 L308.2 234.8M292.2 451.3 L296.3 460.6 L299.8 468.3 L305.2 474.5 L295.7 483.7 L290.3 500.8 L295.7 512.2 L289.8 521.8M253.6 18.4 L253.6 49.3 L262.6 58.6 L263.1 66.3 L274.0 72.5 L283.5 80.2 L300.4 91.1 L297.1 105.0 L298.5 115.8 L294.4 120.4 L306.6 125.1 L314.8 128.2 L331.1 148.3 L340.6 159.1 L355.5 156.0 L377.3 157.5 L380.5 149.8 L389.5 156.0M389.5 142.1 L389.5 265.8 L579.8 265.8 L579.8 142.1 L389.5 142.1M389.5 234.8 L389.5 265.8M579.8 18.4 L579.8 142.1M579.8 265.8 L634.2 265.8M443.9 265.8 L443.9 389.4M634.2 265.8 L634.2 389.4M308.2 389.4 L836.1 389.4M634.2 296.7 L817.7 296.7M634.2 265.8 L634.2 296.7M443.9 389.4 L443.9 564.8M608.3 389.4 L608.3 404.9 L689.9 404.9 L689.9 464.9 L698.1 469.8 L711.6 476.0 L728.0 477.6 L741.5 479.1 L752.4 485.3 L766.0 489.9 L776.9 485.3 L790.5 491.5 L804.1 486.8 L817.7 485.3 L831.3 493.0 L840.0 496.1 L841.3 493.3 L841.3 438.9 L836.1 404.9 L836.1 389.4M607.3 404.9 L606.7 544.0 L509.9 544.0 L512.4 550.8M579.8 113.0 L783.4 113.0M579.8 203.9 L730.7 203.9 L747.0 208.6 L766.0 211.7 L786.4 219.4M765.2 18.4 L767.4 33.9 L770.1 49.3 L775.5 64.8 L776.1 80.2 L777.4 92.6 L782.3 101.9 L783.4 113.0 L775.5 123.5 L786.4 132.8 L786.4 188.5 L786.4 200.8 L782.3 210.1 L786.4 219.4M786.4 188.5 L928.6 188.5M786.4 219.4 L791.8 234.8 L795.9 250.3 L802.2 265.8 L804.9 278.7 L810.9 287.4 L817.7 296.7 L828.5 302.9 L823.1 315.2 L836.4 324.5 L836.1 389.4M804.9 278.7 L914.7 278.1 L923.1 284.9M836.1 404.9 L957.7 404.9 L959.0 411.1 L951.7 420.4 L969.9 420.4M851.9 496.1 L851.9 513.1 L929.9 513.1M851.9 513.1 L851.9 544.3 L859.8 559.5 L865.2 575.0 L860.6 590.4 L860.6 602.8 L857.1 615.2M885.6 149.8 L896.5 156.0 L904.7 160.6 L923.7 173.0 L928.6 188.5 L930.5 203.9 L937.3 213.2 L944.1 219.4 L957.1 231.7 L952.2 247.2 L933.2 251.8 L935.9 265.8 L931.8 276.6 L923.1 284.9 L922.9 299.8 L933.2 315.2 L942.7 327.6 L957.7 332.2 L956.3 340.0 L951.7 349.2 L963.1 360.1 L975.3 367.8 L975.3 380.2 L984.8 389.4 L980.8 401.8 L975.3 404.9 L969.9 420.4 L964.5 432.7 L959.0 448.2 L948.1 460.6 L941.4 472.9 L935.9 482.2 L929.1 494.6 L930.5 503.8 L929.9 513.1 L931.8 525.5 L935.9 534.8 L929.1 547.1 L922.3 559.5 L918.2 575.0 L969.1 575.0 L966.4 585.8 L974.5 600.3M904.7 89.5 L899.5 92.6 L899.5 108.7 L888.3 112.7 L883.5 123.5 L889.7 129.7 L887.0 139.0 L885.6 149.8M944.1 219.4 L1021.5 219.4M950.3 93.5 L958.5 101.9 L986.2 106.5 L997.1 111.2 L1010.7 112.7 L1013.4 117.3 L1020.2 118.9 L1019.6 129.7 L1025.6 131.3 L1027.0 139.0M1028.9 242.3 L1028.9 316.8 L1027.0 327.6 L1028.3 340.0 L1018.8 350.8 L1015.3 360.1 L1015.3 364.7M1102.6 244.1 L1102.6 324.5M1037.9 242.3 L1102.6 242.3 L1102.6 244.1 L1139.8 243.2M1219.4 234.8 L1219.4 276.9 L1216.7 284.3 L1213.7 296.7 L1209.9 309.0 L1198.2 315.2 L1190.1 319.9 L1179.2 330.7 L1173.8 340.0 L1162.9 346.2 L1152.0 335.3 L1133.0 338.4 L1119.4 333.8 L1111.3 324.5 L1102.6 324.5 L1092.2 335.3 L1081.3 344.6 L1075.9 350.8 L1056.9 360.1 L1040.6 363.2 L1027.0 361.6 L1015.3 364.7 L1005.2 375.5 L1002.5 384.8 L984.8 389.4M975.3 404.9 L1014.7 404.9 L1014.7 400.3 L1133.5 401.8 L1187.9 402.1 L1345.8 403.4M1133.5 401.8 L1149.3 394.1 L1171.1 383.3 L1180.0 373.1 L1168.3 364.7 L1162.9 353.9 L1162.9 346.2M1180.0 373.1 L1191.4 383.3 L1201.0 380.2 L1210.5 381.7 L1220.0 375.5 L1225.4 374.0 L1233.6 361.6 L1241.7 347.7 L1247.2 340.0 L1254.0 344.6 L1264.8 332.2 L1277.1 323.0 L1278.4 313.7 L1294.7 317.7 L1292.8 323.6M1247.7 305.3 L1247.7 321.4 L1259.4 313.7 L1267.6 312.1 L1275.7 307.5 L1287.9 309.0 L1294.7 317.7 L1301.5 321.4 L1312.4 329.1 L1314.3 333.8M1219.4 305.3 L1348.0 305.3M1219.4 305.3 L1219.4 276.9M1348.0 305.3 L1354.5 301.6 L1358.1 302.9M1348.0 305.3 L1350.5 344.3 L1368.1 344.3M1351.8 357.9 L1362.7 358.5M1240.1 226.5 L1240.1 234.8 L1360.0 234.8 L1365.4 239.5 L1370.9 250.3 L1377.7 254.6 L1399.4 265.8M1377.7 254.6 L1366.0 266.7 L1364.1 273.5 L1364.1 279.1 L1368.1 284.3 L1376.8 292.0 L1366.0 298.2 L1358.1 302.9 L1354.5 312.1M1414.4 142.1 L1414.9 157.5 L1413.0 185.4 L1417.1 186.9 L1416.5 211.7 L1410.5 233.3 L1408.9 256.5 L1404.0 262.7 L1405.9 265.8M1416.5 211.7 L1438.5 212.3 L1470.1 213.2 L1475.5 208.6 L1483.1 207.9M1410.5 233.3 L1456.5 233.9 L1467.9 234.5 L1467.9 237.9 L1472.8 244.1 L1474.7 250.3M1456.5 234.8 L1455.1 255.9M1464.6 141.8 L1461.1 149.8 L1459.2 160.6 L1449.7 166.8 L1445.6 179.2 L1440.2 194.6 L1438.5 212.3M1476.1 132.8 L1477.7 157.5 L1478.8 185.4 L1479.6 194.6 L1485.0 200.8M1187.9 402.1 L1186.8 409.5 L1176.5 417.3 L1162.9 420.4 L1149.3 428.1 L1137.1 434.3 L1124.0 442.0 L1116.1 451.3M953.6 451.3 L1149.3 451.3M1149.3 451.3 L1171.1 445.1 L1205.0 446.0 L1205.0 449.7 L1208.3 448.2 L1211.8 456.8 L1242.6 457.5 L1273.0 486.8M1149.3 451.3 L1154.7 466.7 L1164.3 482.2 L1176.5 494.6 L1187.4 506.9 L1195.5 525.5 L1209.7 543.1M1081.3 451.3 L1092.8 517.1 L1099.0 534.8 L1094.1 550.2 L1094.9 568.8 L1097.7 575.0 L1101.5 584.2 L1173.8 588.3 L1177.9 594.7 L1180.6 582.7 L1194.2 584.2M1010.7 451.3 L1013.4 454.4 L1005.2 522.4 L1005.2 598.1M1097.7 575.0 L1027.0 575.0 L1032.4 584.2 L1029.7 597.2" fill="none" stroke="#fff" stroke-opacity="0.38" stroke-width="0.8" stroke-linejoin="round"/>
<path d="M1340.4 313.0 L1332.0 317.8 L1327.2 321.4 L1329.6 326.2 L1327.2 334.6 L1328.4 343.0 L1332.0 349.0 L1335.6 357.4 L1335.0 367.0 L1334.4 376.6 L1332.0 383.8 L1335.6 391.0 L1345.0 392.0 L1345.0 388.0 L1342.5 387.0 L1341.6 381.4 L1342.8 373.0 L1346.4 367.0 L1348.8 362.2 L1342.8 359.8 L1343.5 353.0 L1341.6 351.4 L1336.8 347.8 L1338.0 340.6 L1342.0 341.0 L1338.0 339.0 L1334.4 334.6 L1336.2 326.2 L1338.0 317.8 L1342.8 311.8ZM1328.0 461.0 L1335.0 453.0 L1349.0 437.0 L1353.0 436.0 L1351.0 424.0 L1346.0 415.0 L1348.0 414.0 L1354.0 427.0 L1354.5 437.0 L1341.8 447.0 L1329.0 460.5ZM1316.0 449.0 L1326.0 446.0 L1336.0 444.0 L1343.0 440.0 L1349.0 436.0 L1340.0 450.0 L1330.0 459.0 L1326.0 455.0 L1322.0 453.0ZM1314.0 436.0 L1322.0 437.0 L1329.0 441.0 L1328.0 443.0 L1320.0 440.0 L1314.0 438.0ZM1314.0 448.0 L1321.0 451.0 L1327.0 452.0 L1326.0 454.0 L1320.0 454.0 L1314.0 450.0ZM1322.0 414.0 L1327.0 412.0 L1340.0 414.5 L1346.0 411.0 L1348.5 414.5 L1346.0 420.0 L1343.0 422.0 L1340.0 419.0 L1327.0 419.0 L1323.0 423.0 L1324.0 417.0ZM79.0 356.0 L82.5 355.0 L83.5 365.0 L87.0 373.0 L88.0 376.0 L84.0 374.0 L80.0 367.0ZM825.0 620.0 L829.0 613.0 L833.0 615.0 L835.0 621.0 L830.0 624.0ZM778.0 660.0 L777.0 655.0 L781.0 653.0 L784.0 656.0ZM760.0 679.0 L757.0 673.0 L762.0 672.0 L764.0 677.0ZM901.0 612.5 L908.0 611.5 L916.0 616.0 L915.0 620.0 L908.0 619.0 L901.0 615.5ZM965.5 606.5 L969.0 601.0 L976.0 598.5 L980.0 599.5 L977.0 604.0 L972.0 609.5 L967.0 610.0ZM33.0 80.0 L39.0 81.5 L38.0 83.5 L33.5 83.0ZM35.0 91.0 L39.5 92.0 L39.0 95.5 L36.0 96.0ZM37.0 103.2 L47.0 104.0 L47.0 105.2 L37.0 105.5Z" fill="#fff"/>
<path d="M1334.4 362.2 L1329.6 358.6 L1323.6 353.8 L1318.8 351.4 L1314.0 347.8 L1308.0 345.4 L1306.8 341.2 L1309.2 339.4" fill="none" stroke="#fff" stroke-width="2.4" stroke-linejoin="round" stroke-linecap="round"/><path d="M1333.2 373.0 L1328.4 369.4 L1322.4 364.6 L1317.6 359.8" fill="none" stroke="#fff" stroke-width="1.3" stroke-linejoin="round" stroke-linecap="round"/><path d="M1332.0 383.8 L1326.0 381.4 L1321.2 383.8 L1317.0 382.6" fill="none" stroke="#fff" stroke-width="1.6" stroke-linejoin="round" stroke-linecap="round"/><path d="M1335.6 391.0 L1329.6 392.2 L1324.8 387.4 L1320.0 383.2" fill="none" stroke="#fff" stroke-width="1.6" stroke-linejoin="round" stroke-linecap="round"/>
<path d="M73.5 47.0 L72.5 54.0 L66.0 62.0 L60.4 69.5 L63.5 69.0 L68.0 64.0M72.5 42.0 L78.0 47.0 L81.5 51.0 L80.6 60.4 L82.6 68.5 L79.5 72.5 L72.5 77.5 L68.5 74.5 L70.0 70.5 L73.5 72.5M76.0 52.0 L77.0 60.0 L74.0 66.0" fill="none" stroke="#fff" stroke-width="1.3" stroke-linejoin="round" stroke-linecap="round"/>
</g>
<!-- colorbar -->
<rect x="324" y="795" width="810" height="40" fill="url(#cbg)"/>
<rect x="324" y="795" width="810" height="40" fill="none" stroke="#000" stroke-width="2.6"/>
<g fill="#000"><rect x="385.23" y="823" width="2.5" height="12"/><rect x="447.61" y="823" width="2.5" height="12"/><rect x="509.99" y="823" width="2.5" height="12"/><rect x="572.37" y="823" width="2.5" height="12"/><rect x="634.75" y="823" width="2.5" height="12"/><rect x="697.13" y="823" width="2.5" height="12"/><rect x="759.51" y="823" width="2.5" height="12"/><rect x="821.89" y="823" width="2.5" height="12"/><rect x="884.27" y="823" width="2.5" height="12"/><rect x="946.65" y="823" width="2.5" height="12"/><rect x="1009.03" y="823" width="2.5" height="12"/><rect x="1071.41" y="823" width="2.5" height="12"/></g>
<text x="324.60" y="861.9" text-anchor="middle" class="tk">10<tspan dy="-9.2" class="sup">0</tspan></text><text x="386.98" y="861.9" text-anchor="middle" class="tk">10<tspan dy="-9.2" class="sup">1</tspan></text><text x="449.36" y="861.9" text-anchor="middle" class="tk">10<tspan dy="-9.2" class="sup">2</tspan></text><text x="511.74" y="861.9" text-anchor="middle" class="tk">10<tspan dy="-9.2" class="sup">3</tspan></text><text x="574.12" y="861.9" text-anchor="middle" class="tk">10<tspan dy="-9.2" class="sup">4</tspan></text><text x="636.50" y="861.9" text-anchor="middle" class="tk">10<tspan dy="-9.2" class="sup">5</tspan></text><text x="698.88" y="861.9" text-anchor="middle" class="tk">10<tspan dy="-9.2" class="sup">6</tspan></text><text x="761.26" y="861.9" text-anchor="middle" class="tk">10<tspan dy="-9.2" class="sup">7</tspan></text><text x="823.64" y="861.9" text-anchor="middle" class="tk">10<tspan dy="-9.2" class="sup">8</tspan></text><text x="886.02" y="861.9" text-anchor="middle" class="tk">10<tspan dy="-9.2" class="sup">9</tspan></text><text x="948.40" y="861.9" text-anchor="middle" class="tk">10<tspan dy="-9.2" class="sup">10</tspan></text><text x="1010.78" y="861.9" text-anchor="middle" class="tk">10<tspan dy="-9.2" class="sup">11</tspan></text><text x="1073.16" y="861.9" text-anchor="middle" class="tk">10<tspan dy="-9.2" class="sup">12</tspan></text><text x="1135.54" y="861.9" text-anchor="middle" class="tk">10<tspan dy="-9.2" class="sup">13</tspan></text>
<text x="322.4" y="775.4" class="ttl">Deposition density [Bq/m<tspan dx="1.7" dy="-8.7" class="s2">2</tspan><tspan dx="0.6" dy="8.7">]</tspan></text>
</svg>
</body></html>
